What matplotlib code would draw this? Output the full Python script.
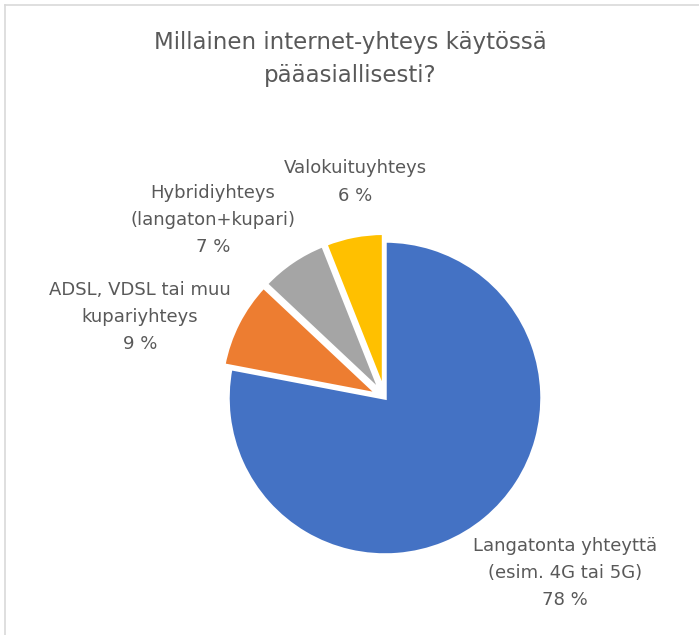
import matplotlib.pyplot as plt
from matplotlib.lines import Line2D

title = "Millainen internet-yhteys käytössä\npääasiallisesti?"
labels = ["Langatonta yhteyttä\n(esim. 4G tai 5G)",
          "ADSL, VDSL tai muu\nkupariyhteys",
          "Hybridiyhteys\n(langaton+kupari)",
          "Valokuituyhteys"]
values = [78, 9, 7, 6]
colors = ["#4472C4", "#ED7D31", "#A5A5A5", "#FFC000"]
explode = [0, 0.05, 0.05, 0.05]

W, H = 699, 635
fig = plt.figure(figsize=(W / 100, H / 100), dpi=100)

# pie centre ~ (385, 398) px, radius ~157 px
cx, cy, r = 385, 398, 157
ax = fig.add_axes([(cx - r) / W, (H - cy - r) / H, 2 * r / W, 2 * r / H])

wedges, _ = ax.pie(values, colors=colors, explode=explode, startangle=90,
                   counterclock=False, radius=1,
                   wedgeprops=dict(edgecolor="white", linewidth=2.5))
for w in wedges:
    w.set_clip_on(False)
ax.set_xlim(-1, 1)
ax.set_ylim(-1, 1)
ax.axis("off")

# data labels (pixel positions from reference)
label_pos = [(565, 573), (140, 317), (213, 220), (355, 182)]
for lab, v, (px, py) in zip(labels, values, label_pos):
    fig.text(px / W, 1 - py / H, f"{lab}\n{v} %", ha="center", va="center",
             fontsize=13, color="#595959", linespacing=1.65)

fig.text(350 / W, 1 - 59 / H, title, ha="center", va="center",
         fontsize=16.5, color="#595959", linespacing=1.6)

# thin chart border (left and top visible)
fig.add_artist(Line2D([5 / W, 5 / W], [0, 1 - 5 / H], color="#D9D9D9", lw=1.2))
fig.add_artist(Line2D([5 / W, 1], [1 - 5 / H, 1 - 5 / H], color="#D9D9D9", lw=1.2))

fig.savefig("out.png", dpi=100)
